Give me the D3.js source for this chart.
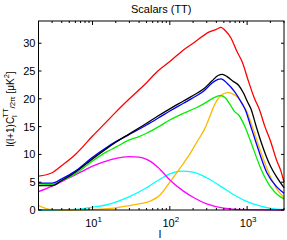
<!DOCTYPE html>
<html>
<head>
<meta charset="utf-8">
<script src="https://cdn.jsdelivr.net/npm/d3@7"></script>
<style>
  body { margin: 0; background: #fff; }
  text { font-family: "Liberation Sans", Arial, sans-serif; fill: #000; }
</style>
</head>
<body>
<div id="chart"></div>
<script>
// multipole values l and each spectrum
var ellRed = [2, 3, 4, 6, 10, 15, 20, 30, 50, 70, 100, 150, 200, 330, 400, 460, 520, 620, 740, 860, 1050, 1250, 1430, 1700, 2030, 2400, 2740, 3000];
var red = [6.1, 6.7, 8.0, 10.0, 13.3, 15.8, 17.6, 20.0, 22.9, 25.0, 26.7, 28.8, 30.0, 32.1, 32.5, 32.85, 32.3, 30.9, 28.5, 26.7, 23.0, 20.0, 18.2, 15.0, 12.2, 9.0, 7.0, 5.0];

var ellBlack = [2, 3, 4, 6, 10, 15, 20, 30, 50, 70, 100, 150, 200, 275, 350, 420, 480, 550, 650, 780, 900, 1000, 1120, 1300, 1520, 2000, 2500, 3000];
var black = [4.4, 4.4, 5.3, 6.8, 9.2, 11.0, 12.2, 13.7, 15.6, 16.9, 18.2, 19.6, 20.6, 21.8, 23.2, 24.2, 24.4, 24.0, 23.2, 22.4, 21.0, 19.6, 18.2, 15.2, 12.2, 7.9, 5.6, 4.0];

var ellBlue = [2, 3, 4, 6, 10, 15, 20, 30, 50, 70, 100, 150, 200, 275, 350, 420, 460, 550, 680, 870, 950, 1100, 1300, 1800, 2400, 3000];
var blue = [4.85, 4.85, 5.6, 7.0, 9.5, 11.2, 12.3, 13.6, 15.3, 16.5, 17.8, 19.2, 20.2, 21.4, 22.8, 23.5, 23.6, 22.8, 21.4, 19.0, 18.0, 15.3, 12.2, 6.7, 4.2, 3.0];

var ellGreen = [2, 3, 4, 6, 10, 15, 20, 30, 40, 50, 70, 100, 150, 220, 275, 350, 450, 520, 600, 680, 787, 950, 1120, 1520, 2000, 2500, 3000];
var green = [4.7, 4.6, 5.3, 6.5, 8.8, 10.4, 11.3, 12.6, 13.2, 13.8, 14.9, 16.2, 17.4, 18.4, 19.1, 20.0, 20.6, 20.2, 19.0, 17.8, 17.0, 14.8, 12.2, 7.3, 4.2, 2.7, 2.0];

var ellOrange = [2, 3, 5, 10, 20, 30, 40, 56, 76, 100, 140, 180, 230, 280, 320, 370, 450, 560, 650, 750, 850, 1000, 1200, 1500, 2000, 2500, 3000];
var orange = [0.8, 0.05, 0, 0.1, 0.4, 0.8, 1.1, 1.6, 2.8, 5.0, 7.8, 10.0, 12.5, 14.5, 16.4, 18.6, 20.5, 21.1, 20.9, 20.3, 19.3, 17.6, 14.5, 10.5, 6.0, 3.5, 2.3];

var ellMagenta = [2, 3, 5, 7, 10, 15, 20, 30, 40, 50, 70, 100, 150, 200, 300, 500, 1000, 3000];
var magenta = [3.3, 4.3, 5.8, 6.8, 7.9, 8.8, 9.3, 9.6, 9.5, 9.1, 7.7, 5.4, 3.4, 2.3, 1.1, 0.35, 0.05, 0];

var ellCyan = [2, 3, 5, 8, 10, 15, 20, 30, 50, 70, 100, 140, 200, 300, 450, 700, 1000, 1500, 2000, 3000];
var cyan = [0, 0, 0.05, 0.3, 0.5, 0.9, 1.4, 2.4, 4.0, 5.3, 6.5, 7.0, 6.8, 5.8, 4.3, 2.6, 1.5, 0.7, 0.3, 0.1];

var yTicks = [0, 5, 10, 15, 20, 25, 30];
var xMajor = [10, 100, 1000];

var W = 287, H = 240;
var margin = {left: 38.5, right: 3, top: 21, bottom: 30};

var svg = d3.select('#chart').append('svg').attr('width', W).attr('height', H);

var x = d3.scaleLog().domain([2, 3000]).range([margin.left, W - margin.right]);
var y = d3.scaleLinear().domain([0, 34]).range([H - margin.bottom, margin.top]);

var series = [
  {l: ellCyan, v: cyan, c: '#00ffff'},
  {l: ellOrange, v: orange, c: '#ffb800'},
  {l: ellMagenta, v: magenta, c: '#ff00ff'},
  {l: ellGreen, v: green, c: '#00ee00'},
  {l: ellBlue, v: blue, c: '#0000ff'},
  {l: ellBlack, v: black, c: '#000000'},
  {l: ellRed, v: red, c: '#ff0000'}
];

var line = d3.line()
  .x(function (d) { return x(d[0]); })
  .y(function (d) { return y(d[1]); })
  .curve(d3.curveMonotoneX);

svg.append('g').selectAll('path')
  .data(series)
  .enter()
    .append('path')
    .attr('d', function (s) { return line(d3.zip(s.l, s.v)); })
    .attr('fill', 'none')
    .attr('stroke', function (s) { return s.c; })
    .attr('stroke-width', 1.3);

// box
var x0 = x.range()[0], x1 = x.range()[1], y0 = y.range()[0], y1 = y.range()[1];
svg.append('rect')
  .attr('x', x0).attr('y', y1).attr('width', x1 - x0).attr('height', y0 - y1)
  .attr('fill', 'none').attr('stroke', '#000').attr('stroke-width', 1);

// x ticks, inside, bottom and top
var minor = [];
[1, 10, 100, 1000].forEach(function (dec) {
  for (var k = 2; k <= 9; k++) {
    var v = dec * k;
    if (v >= 2 && v <= 3000) minor.push(v);
  }
});
var tk = svg.append('g').attr('stroke', '#000').attr('stroke-width', 1);
minor.forEach(function (v) {
  tk.append('line').attr('x1', x(v)).attr('x2', x(v)).attr('y1', y0).attr('y2', y0 - 2);
  tk.append('line').attr('x1', x(v)).attr('x2', x(v)).attr('y1', y1).attr('y2', y1 + 2);
});
xMajor.forEach(function (v) {
  tk.append('line').attr('x1', x(v)).attr('x2', x(v)).attr('y1', y0).attr('y2', y0 - 4);
  tk.append('line').attr('x1', x(v)).attr('x2', x(v)).attr('y1', y1).attr('y2', y1 + 4);
});
yTicks.forEach(function (v) {
  tk.append('line').attr('x1', x0).attr('x2', x0 + 3).attr('y1', y(v)).attr('y2', y(v));
  tk.append('line').attr('x1', x1).attr('x2', x1 - 3).attr('y1', y(v)).attr('y2', y(v));
});

// tick labels
svg.append('g').selectAll('text')
  .data(yTicks)
  .enter()
    .append('text')
    .attr('x', x0 - 3)
    .attr('y', function (d) { return y(d) + 4; })
    .attr('text-anchor', 'end')
    .attr('font-size', 11)
    .text(function (d) { return d; });

var xl = svg.append('g').selectAll('text')
  .data(xMajor)
  .enter()
    .append('text')
    .attr('x', function (d) { return x(d) + 1; })
    .attr('y', y0 + 17)
    .attr('text-anchor', 'middle')
    .attr('font-size', 11);
xl.append('tspan').text('10');
xl.append('tspan').attr('font-size', 8).attr('dy', -5)
  .text(function (d) { return Math.round(Math.log10(d)); });

// title and axis labels
svg.append('text')
  .attr('x', (x0 + x1) / 2).attr('y', 13)
  .attr('text-anchor', 'middle').attr('font-size', 11)
  .text('Scalars (TT)');

svg.append('text')
  .attr('x', 160).attr('y', 238)
  .attr('text-anchor', 'middle').attr('font-size', 11)
  .text('l');

var yl = svg.append('text')
  .attr('transform', 'translate(14,' + 109 + ') rotate(-90)')
  .attr('text-anchor', 'middle').attr('font-size', 10);
yl.append('tspan').text('l(l+1)C');
yl.append('tspan').attr('font-size', 7.5).attr('dy', 3).text('l');
yl.append('tspan').attr('font-size', 7.5).attr('dx', -2.5).attr('dy', -9).text('TT');
yl.append('tspan').attr('font-size', 8).attr('dy', 7).text('/2π');
yl.append('tspan').attr('dy', -1).text(' [μK');
yl.append('tspan').attr('font-size', 7.5).attr('dy', -5).text('2');
yl.append('tspan').attr('dy', 5).text(']');
</script>
</body>
</html>
